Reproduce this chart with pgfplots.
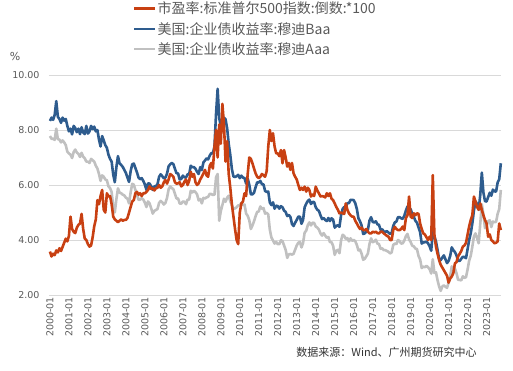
\documentclass[border=0pt]{standalone}
\usepackage{fontspec}
\setmainfont{DejaVu Sans}
\newfontfamily\cjk{Noto Sans CJK SC}
\usepackage{pgfplots}
\usepackage{pgfplotstable}
\pgfplotsset{compat=1.18}
\definecolor{cred}{RGB}{200,64,18}
\definecolor{cblue}{RGB}{46,92,142}
\definecolor{cgray}{RGB}{192,192,192}
\definecolor{cgrid}{RGB}{217,217,217}
\definecolor{ctext}{RGB}{89,89,89}

% monthly values 2000-01 ... 2023-10 : baa aaa pe
\pgfplotstableread{
baa aaa pe
8.33 7.78 3.58
8.45 7.68 3.40
8.37 7.68 3.50
8.55 7.64 3.45
9.05 8.05 3.62
8.48 7.67 3.55
8.40 7.65 3.70
8.26 7.55 3.60
8.45 7.62 3.75
8.34 7.55 3.90
8.40 7.45 4.05
8.15 7.21 3.95
7.95 7.15 4.15
8.05 7.10 4.85
7.84 6.98 4.40
8.15 7.20 4.30
8.07 7.29 4.25
7.92 7.18 4.45
8.05 7.13 4.55
7.85 7.02 4.60
8.10 7.17 4.95
7.91 7.03 4.40
7.85 6.97 4.05
8.15 6.85 4.00
7.87 6.85 3.85
7.95 6.80 3.76
8.15 6.95 3.80
8.03 6.90 4.10
8.12 6.85 4.50
7.95 6.70 4.75
8.00 6.60 5.45
7.65 6.40 5.30
7.40 6.15 5.60
7.78 6.35 5.82
7.62 6.30 5.10
7.45 6.20 5.00
7.35 6.17 5.70
7.10 5.95 5.58
6.95 5.89 5.60
6.85 5.74 5.30
6.38 5.22 4.85
6.10 5.00 4.75
6.65 5.49 4.70
7.05 5.88 4.65
6.79 5.72 4.70
6.73 5.70 4.75
6.66 5.65 4.70
6.55 5.62 4.73
6.44 5.54 4.73
6.27 5.50 4.80
6.11 5.33 5.00
6.50 5.73 5.20
6.75 6.04 5.40
6.78 6.01 5.45
6.62 5.82 5.70
6.46 5.65 5.75
6.27 5.46 5.65
6.21 5.47 5.70
6.25 5.52 5.60
6.15 5.47 5.70
6.02 5.36 5.70
5.82 5.20 5.75
6.06 5.40 5.82
6.05 5.33 5.95
5.95 5.15 5.85
5.82 4.96 5.88
5.95 5.06 5.80
5.96 5.09 5.88
6.03 5.13 5.90
6.30 5.35 6.00
6.39 5.42 5.90
6.32 5.37 5.95
6.24 5.29 6.10
6.27 5.35 6.18
6.41 5.53 6.05
6.68 5.84 6.20
6.75 5.95 6.40
6.80 5.89 6.36
6.76 5.85 6.30
6.59 5.68 6.10
6.43 5.51 6.05
6.42 5.51 6.06
6.20 5.33 6.10
6.22 5.32 5.95
6.34 5.40 6.00
6.28 5.39 6.12
6.27 5.30 6.20
6.39 5.47 6.00
6.39 5.47 6.15
6.70 5.79 6.48
6.65 5.73 6.30
6.65 5.79 6.40
6.59 5.74 6.10
6.48 5.66 6.00
6.40 5.44 6.06
6.65 5.49 6.20
6.54 5.33 6.30
6.82 5.53 6.42
6.89 5.51 6.55
6.97 5.55 6.35
6.93 5.57 6.30
7.07 5.68 6.70
7.16 5.67 6.80
7.15 5.64 6.60
7.40 5.65 7.39
8.60 6.28 8.00
9.50 6.40 7.00
8.43 4.70 8.20
8.14 5.05 7.50
8.08 5.27 8.95
8.45 5.50 8.20
8.39 5.39 6.85
8.06 5.54 7.60
7.50 5.61 6.40
7.09 5.41 5.90
6.58 5.26 5.30
6.31 5.13 4.85
6.29 5.15 4.40
6.32 5.19 4.00
6.37 5.26 3.85
6.25 5.26 5.00
6.34 5.35 5.33
6.27 5.27 5.40
6.25 5.29 5.70
6.05 4.96 5.60
6.23 4.88 6.40
6.01 4.72 7.00
5.66 4.40 6.95
5.66 4.53 6.79
5.72 4.68 6.60
5.92 4.87 6.42
6.10 5.02 6.30
6.09 5.04 6.25
6.15 5.22 6.30
6.03 5.13 6.40
6.02 5.16 6.35
5.78 4.96 6.30
5.75 4.99 6.50
5.76 4.93 7.40
5.36 4.37 8.00
5.27 4.09 7.60
5.37 3.98 7.88
5.14 3.87 7.40
5.25 3.93 7.15
5.23 3.85 7.15
5.14 3.85 7.05
5.23 3.99 7.27
5.19 3.96 6.79
5.07 3.80 7.27
5.02 3.64 7.00
4.87 3.35 6.67
4.91 3.48 6.80
4.84 3.49 6.55
4.58 3.47 6.80
4.51 3.50 6.42
4.63 3.65 6.30
4.73 3.80 6.20
4.85 3.90 6.00
4.85 3.93 5.82
4.59 3.73 5.90
4.73 3.89 5.82
5.19 4.27 5.94
5.32 4.34 5.76
5.42 4.54 5.90
5.47 4.64 5.82
5.31 4.53 5.58
5.38 4.63 5.65
5.38 4.62 5.60
5.19 4.49 5.94
5.10 4.45 5.80
5.06 4.38 5.70
4.90 4.24 5.58
4.76 4.16 5.60
4.80 4.25 5.58
4.73 4.16 5.55
4.69 4.08 5.70
4.80 4.11 5.60
4.69 3.92 5.70
4.79 3.92 5.50
4.74 3.79 5.45
4.45 3.46 5.33
4.51 3.61 5.20
4.54 3.64 5.10
4.48 3.52 4.97
4.89 3.98 5.00
5.13 4.19 4.97
5.20 4.15 4.95
5.19 4.04 5.33
5.34 4.07 5.10
5.34 3.95 4.97
5.46 4.06 4.90
5.46 3.97 4.85
5.45 4.00 4.85
5.34 3.96 4.70
5.13 3.82 4.60
4.79 3.62 4.49
4.68 3.65 4.40
4.53 3.50 4.45
4.22 3.28 4.36
4.24 3.32 4.36
4.31 3.41 4.40
4.38 3.51 4.30
4.71 3.86 4.24
4.83 4.06 4.24
4.66 3.92 4.30
4.64 3.95 4.28
4.68 4.01 4.30
4.57 3.87 4.25
4.55 3.85 4.24
4.37 3.68 4.30
4.39 3.70 4.30
4.31 3.63 4.24
4.30 3.63 4.20
4.32 3.60 4.15
4.27 3.57 4.12
4.22 3.51 4.00
4.26 3.55 4.00
4.51 3.82 4.36
4.64 3.87 4.48
4.67 3.85 4.40
4.83 4.00 4.36
4.83 3.96 4.36
4.79 3.87 4.40
4.77 3.88 4.49
4.88 3.98 4.36
5.07 4.14 4.80
5.22 4.22 4.90
5.13 4.02 5.58
5.12 3.93 4.85
4.95 3.79 4.80
4.84 3.77 4.97
4.70 3.69 4.90
4.63 3.67 4.97
4.46 3.42 4.95
4.28 3.29 4.60
3.87 2.98 4.40
3.91 3.03 4.24
3.92 3.01 4.20
3.94 3.06 4.10
3.88 3.01 4.00
3.77 2.94 4.12
3.61 2.78 4.00
4.29 3.30 6.36
4.13 2.80 4.20
3.95 2.83 3.76
3.64 2.54 3.50
3.31 2.31 3.27
3.27 2.15 3.10
3.36 2.31 3.00
3.44 2.35 2.90
3.30 2.30 2.80
3.16 2.26 2.70
3.24 2.45 2.45
3.42 2.70 2.60
3.73 3.04 2.67
3.63 2.90 2.80
3.56 2.96 3.15
3.44 2.79 3.20
3.24 2.55 3.40
3.24 2.55 3.50
3.32 2.53 3.60
3.39 2.68 3.76
3.38 2.62 3.80
3.34 2.65 3.90
3.67 2.93 4.20
4.00 3.25 4.50
4.25 3.43 4.73
4.60 3.76 4.90
5.07 4.13 5.58
5.41 4.24 5.40
5.31 4.07 5.20
5.10 3.88 5.10
5.63 4.59 5.33
6.45 5.30 5.09
5.73 4.93 4.90
5.41 4.43 4.73
5.40 4.53 4.60
5.56 4.68 4.12
5.72 4.72 4.20
5.61 4.47 4.00
5.83 4.67 3.95
5.77 4.65 3.88
5.76 4.66 3.90
6.09 4.95 3.95
6.21 5.13 4.60
6.79 5.82 4.36
}\data

\begin{document}
\begin{tikzpicture}
\useasboundingbox (-49pt,-76pt) rectangle (464pt,295pt);
\begin{axis}[
  at={(0pt,0pt)}, anchor=south west,
  scale only axis, width=452pt, height=220pt,
  clip=false,
  xmin=1999.95, xmax=2023.76, ymin=2, ymax=10,
  ytick={2,4,6,8,10},
  xtick={2000,2001,...,2023},
  xticklabels={2000-01,2001-01,2002-01,2003-01,2004-01,2005-01,2006-01,2007-01,2008-01,2009-01,2010-01,2011-01,2012-01,2013-01,2014-01,2015-01,2016-01,2017-01,2018-01,2019-01,2020-01,2021-01,2022-01,2023-01},
  ymajorgrids, grid style={cgrid, line width=0.7pt},
  axis line style={draw=none},
  major tick length=0pt,
  tick label style={font=\fontsize{9.5}{11}\selectfont, text=ctext},
  /pgf/number format/assume math mode=true,
  yticklabel={\pgfmathprintnumber[fixed,fixed zerofill,precision=2]{\tick}},
  yticklabel style={xshift=-6pt},
  xticklabel style={rotate=90, anchor=east, inner sep=2pt},
  legend style={at={(axis description cs:0.186,1.338)}, anchor=north west,
    draw=none, fill=none, inner sep=0pt, row sep=5pt,
    font={\cjk\fontsize{14}{15}\selectfont}, text=ctext,
    nodes={inner sep=1pt}},
  legend cell align=left,
  legend image code/.code={\draw[#1, line width=2.4pt] (0pt,0pt) -- (21pt,0pt);},
]
\addlegendimage{cred}
\addlegendentry{市盈率:标准普尔500指数:倒数:*100}
\addlegendimage{cblue}
\addlegendentry{美国:企业债收益率:穆迪Baa}
\addlegendimage{cgray}
\addlegendentry{美国:企业债收益率:穆迪Aaa}
\addplot[cgray, line width=2.6pt, line join=round, forget plot] table[x expr=2000+\coordindex/12, y=aaa]{\data};
\addplot[cblue, line width=2.6pt, line join=round, forget plot] table[x expr=2000+\coordindex/12, y=baa]{\data};
\addplot[cred, line width=2.6pt, line join=round, forget plot] table[x expr=2000+\coordindex/12, y=pe]{\data};
\node[font=\fontsize{11}{12}\selectfont, text=ctext] at (axis description cs:-0.075,1.082) {\%};
\node[anchor=east, font={\cjk\fontsize{11}{13}\selectfont}, text=black!80] at (axis description cs:0.954,-0.259) {数据来源：Wind、广州期货研究中心};
\end{axis}
\end{tikzpicture}
\end{document}
